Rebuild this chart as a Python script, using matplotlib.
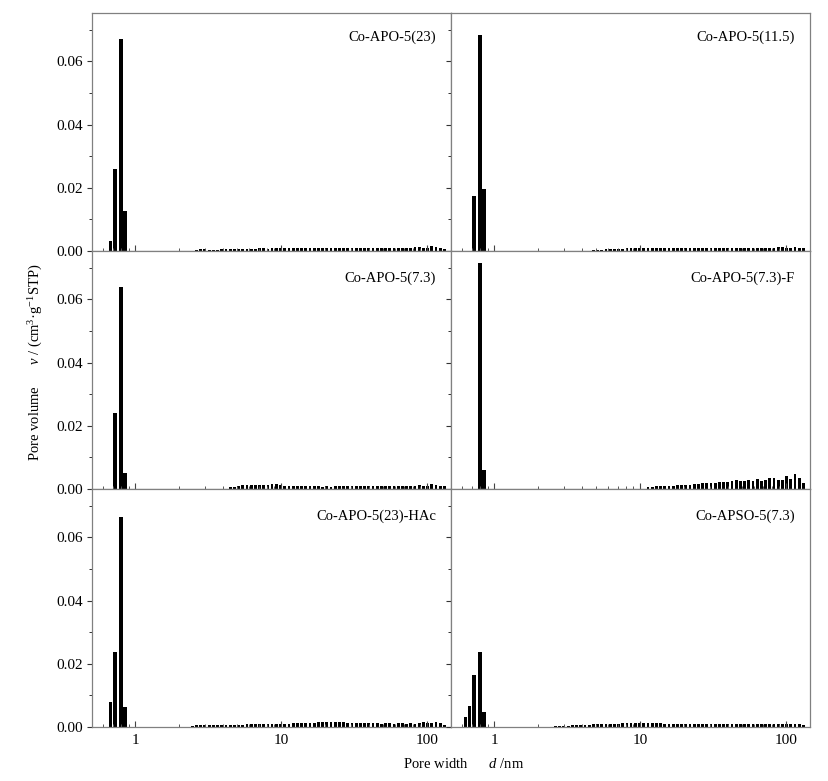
import numpy as np
import matplotlib
matplotlib.use("Agg")
import matplotlib.pyplot as plt
from matplotlib.ticker import LogLocator, FixedLocator, FixedFormatter, NullFormatter

plt.rcParams['font.family'] = ['Liberation Serif', 'DejaVu Serif']
plt.rcParams['mathtext.fontset'] = 'custom'
plt.rcParams['mathtext.rm'] = 'Liberation Serif'
plt.rcParams['mathtext.it'] = 'Liberation Serif:italic'

# ------------------------------
# data
# ------------------------------
micro_d = [0.635, 0.674, 0.725, 0.797, 0.851]

meso_d = [2.46, 2.63, 2.81, 3.00, 3.21, 3.43, 3.66, 3.91, 4.18, 4.47,
          4.78, 5.10, 5.45, 5.83, 6.23, 6.65, 7.11, 7.60, 8.12, 8.67,
          9.27, 9.90, 10.58, 11.31, 12.08, 12.91, 13.80, 14.74, 15.75, 16.83,
          17.99, 19.22, 20.54, 21.95, 23.45, 25.06, 26.78, 28.62, 30.58, 32.68,
          34.92, 37.31, 39.87, 42.61, 45.53, 48.65, 51.99, 55.55, 59.36, 63.43,
          67.79, 72.44, 77.40, 82.71, 88.38, 94.44, 100.9, 107.8, 115.2, 123.1,
          131.6]

labels = ["Co-APO-5(23)", "Co-APO-5(11.5)",
          "Co-APO-5(7.3)", "Co-APO-5(7.3)-F",
          "Co-APO-5(23)-HAc", "Co-APSO-5(7.3)"]

micro_23 = [0, 0.0032, 0.0261, 0.0672, 0.0128]
micro_115 = [0, 0, 0.0175, 0.0683, 0.0196]
micro_73 = [0, 0, 0.0239, 0.0639, 0.0050]
micro_73F = [0, 0, 0, 0.0716, 0.0059]
micro_HAc = [0, 0.0080, 0.0238, 0.0663, 0.0062]
micro_APSO = [0.0031, 0.0068, 0.0165, 0.0238, 0.0046]

meso_23 = [0,
           0.0004, 0.0005, 0.0005, 0.0004, 0.0004, 0.0004, 0.0005, 0.0005, 0.0005, 0.0005,
           0.0005, 0.0006, 0.0006, 0.0006, 0.0007, 0.0008, 0.0008, 0.0007, 0.0008, 0.0009,
           0.0009, 0.0010, 0.0010, 0.0010, 0.0010, 0.0010, 0.0011, 0.0011, 0.0011, 0.0011,
           0.0011, 0.0011, 0.0011, 0.0010, 0.0011, 0.0011, 0.0010, 0.0011, 0.0010, 0.0010,
           0.0011, 0.0010, 0.0010, 0.0010, 0.0011, 0.0010, 0.0010, 0.0010, 0.0011, 0.0010,
           0.0010, 0.0011, 0.0012, 0.0013, 0.0011, 0.0010, 0.0015, 0.0012, 0.0009, 0.0006]

meso_115 = [0, 0, 0, 0, 0, 0, 0, 0, 0, 0,
            0.0003, 0.0004, 0.0004, 0.0005, 0.0005, 0.0006, 0.0006, 0.0007, 0.0008, 0.0008,
            0.0009, 0.0008, 0.0008, 0.0008, 0.0009, 0.0009, 0.0009, 0.0009, 0.0009, 0.0009,
            0.0009, 0.0009, 0.0009, 0.0009, 0.0009, 0.0008, 0.0008, 0.0009, 0.0008, 0.0008,
            0.0009, 0.0008, 0.0008, 0.0008, 0.0008, 0.0008, 0.0008, 0.0008, 0.0009, 0.0008,
            0.0008, 0.0009, 0.0009, 0.0010, 0.0012, 0.0013, 0.0011, 0.0010, 0.0014, 0.0009,
            0.0008]

meso_73 = [0, 0, 0, 0, 0, 0, 0, 0, 0,
           0.0005, 0.0007, 0.0009, 0.0012, 0.0013, 0.0013, 0.0013, 0.0013, 0.0014, 0.0014,
           0.0017, 0.0016, 0.0012, 0.0010,
           0.0009, 0.0008, 0.0008, 0.0008, 0.0008, 0.0008, 0.0008, 0.0008, 0.0007, 0.0008,
           0.0007, 0.0008, 0.0008, 0.0008, 0.0008, 0.0008, 0.0008, 0.0008,
           0.0008, 0.0008, 0.0008, 0.0009, 0.0009, 0.0008, 0.0009, 0.0009, 0.0009, 0.0009,
           0.0010, 0.0009, 0.0010, 0.0012, 0.0011, 0.0010, 0.0015, 0.0012, 0.0011, 0.0011]

meso_73F = [0, 0, 0, 0, 0, 0, 0, 0, 0, 0,
            0, 0, 0, 0, 0, 0, 0, 0, 0, 0,
            0, 0, 0,
            0.0006, 0.0007, 0.0008, 0.0008, 0.0009, 0.0010, 0.0011, 0.0012, 0.0013, 0.0014,
            0.0014, 0.0016, 0.0017, 0.0018, 0.0019, 0.0020, 0.0019, 0.0022, 0.0023, 0.0021,
            0.0025, 0.0027, 0.0026, 0.0024, 0.0028, 0.0026, 0.0031, 0.0025, 0.0027, 0.0035,
            0.0036, 0.0029, 0.0030, 0.0040, 0.0031, 0.0046, 0.0036, 0.0018]

meso_HAc = [0.0003, 0.0007, 0.0007, 0.0006, 0.0006, 0.0006, 0.0006, 0.0006, 0.0006, 0.0007,
            0.0007, 0.0007, 0.0007, 0.0008, 0.0008, 0.0008, 0.0009, 0.0009, 0.0010, 0.0011,
            0.0010,
            0.0011, 0.0011, 0.0011, 0.0012, 0.0013, 0.0013, 0.0013, 0.0014, 0.0014, 0.0015,
            0.0015, 0.0016, 0.0016, 0.0016, 0.0015, 0.0015, 0.0014, 0.0014, 0.0012, 0.0012,
            0.0012, 0.0013, 0.0012, 0.0012, 0.0011, 0.0013, 0.0012, 0.0011, 0.0013, 0.0012,
            0.0010, 0.0013, 0.0011, 0.0013, 0.0015, 0.0014, 0.0014, 0.0015, 0.0012, 0.0007]

meso_APSO = [0,
             0.0002, 0.0003, 0.0004, 0.0004, 0.0005, 0.0006, 0.0006, 0.0007, 0.0007, 0.0008,
             0.0008, 0.0009, 0.0010, 0.0010, 0.0011, 0.0011, 0.0012, 0.0012, 0.0013, 0.0014,
             0.0014, 0.0014, 0.0013, 0.0013, 0.0012, 0.0012, 0.0011, 0.0011, 0.0011, 0.0010,
             0.0010, 0.0010, 0.0009, 0.0009, 0.0009, 0.0009, 0.0009, 0.0008, 0.0008, 0.0008,
             0.0008, 0.0008, 0.0008, 0.0008, 0.0008, 0.0008, 0.0008, 0.0008, 0.0008, 0.0008,
             0.0009, 0.0008, 0.0008, 0.0009, 0.0009, 0.0009, 0.0011, 0.0008, 0.0009, 0.0006]

micro_all = [micro_23, micro_115, micro_73, micro_73F, micro_HAc, micro_APSO]
meso_all = [meso_23, meso_115, meso_73, meso_73F, meso_HAc, meso_APSO]

# ------------------------------
# figure
# ------------------------------
W, H = 829, 781
fig, axes = plt.subplots(3, 2, figsize=(W / 100, H / 100), dpi=100,
                         sharex=True, sharey=True)
fig.subplots_adjust(left=92 / W, right=810 / W, top=1 - 13 / H,
                    bottom=1 - 727 / H, hspace=0, wspace=0)

SPINE = '#808080'
DW_MICRO = 0.023  # bar widths in decades
DW_MESO = 0.019


def log_bars(ax, x, h, dw):
    x = np.asarray(x, float)
    h = np.asarray(h, float)
    keep = h > 0
    x, h = x[keep], h[keep]
    left = x * 10 ** (-dw / 2)
    width = x * (10 ** (dw / 2) - 10 ** (-dw / 2))
    ax.bar(left, h, width=width, align='edge', color='black', linewidth=0)


label_dy = [24, 24, 27, 27, 27, 27]

for i, ax in enumerate(axes.flat):
    log_bars(ax, micro_d, micro_all[i], DW_MICRO)
    log_bars(ax, meso_d, meso_all[i], DW_MESO)

    ax.set_xscale('log')
    ax.set_xlim(0.505, 146)
    ax.set_ylim(0, 0.0753)

    for s in ax.spines.values():
        s.set_color(SPINE)
        s.set_linewidth(0.9)

    ax.xaxis.set_major_locator(FixedLocator([1, 10, 100]))
    ax.xaxis.set_major_formatter(FixedFormatter(['1', '10', '100']))
    ax.xaxis.set_minor_locator(LogLocator(base=10, subs=np.arange(2, 10)))
    ax.xaxis.set_minor_formatter(NullFormatter())
    ax.tick_params(axis='x', which='major', direction='in', length=4.2,
                   width=0.8, color='#444444', labelsize=11, pad=5)
    ax.tick_params(axis='x', which='minor', direction='in', length=2,
                   width=0.7, color='#555555')

    ax.set_yticks([0, 0.02, 0.04, 0.06])
    ax.set_yticks([0.01, 0.03, 0.05, 0.07], minor=True)
    ax.yaxis.set_major_formatter(FixedFormatter(['0.00', '0.02', '0.04', '0.06']))
    ax.tick_params(axis='y', which='major', direction='out', length=3.5,
                   width=0.8, color='#333333', labelsize=11, pad=3)
    ax.tick_params(axis='y', which='minor', direction='out', length=2,
                   width=0.7, color='#333333')

    if i % 2 == 1:
        ax.tick_params(axis='y', which='both', labelleft=False)
    if i < 4:
        ax.tick_params(axis='x', which='both', labelbottom=False)

    ax.text(1 - 15 / 358, 1 - label_dy[i] / 238, labels[i],
            transform=ax.transAxes, ha='right', va='center', fontsize=10.5)

fig.text(36 / W, 1 - 362 / H,
         'Pore volume      $v$ / (cm$^{3}$\u00b7g$^{-1}$STP)',
         rotation=90, ha='center', va='center', fontsize=10.5)
fig.text(464 / W, 1 - 764 / H, 'Pore width      $d$ /nm',
         ha='center', va='center', fontsize=10.5)

fig.savefig('out.png', dpi=100)
